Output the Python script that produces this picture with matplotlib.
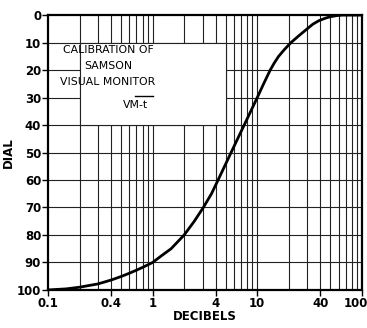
import numpy as np
import matplotlib.pyplot as plt
from matplotlib.patches import Rectangle
import matplotlib.transforms as mtransforms

# curve
decibels = [0.1, 0.15, 0.2, 0.3, 0.4, 0.5, 0.6, 0.7, 0.8, 1.0, 1.2, 1.5, 2.0, 2.5,
            3.05, 3.65, 4.22, 4.87, 5.62, 6.49, 7.5, 8.66, 10, 11.5, 13.3, 14.5,
            16.0, 18.2, 21, 25, 30, 34, 39, 45, 50, 57, 65, 80, 100]
dial = [100, 99.6, 99, 97.8, 96.4, 95.1, 93.9, 92.8, 91.8, 90, 87.7, 85, 80, 75,
        70, 65, 60, 55, 50, 45, 40, 35, 30, 25, 20, 17.5,
        15, 12.5, 10, 7.5, 5, 3.3, 2, 1.1, 0.6, 0.2, 0, 0, 0]

xtick_vals = [0.1, 0.4, 1, 4, 10, 40, 100]
xtick_labels = ['0.1', '0.4', '1', '4', '10', '40', '100']
ytick_vals = [0, 10, 20, 30, 40, 50, 60, 70, 80, 90, 100]

title_lines = ['CALIBRATION OF', 'SAMSON', 'VISUAL MONITOR']
model = 'VM-t'

fig = plt.figure(figsize=(3.67, 3.28), dpi=100)
ax = fig.add_axes([0.131, 0.116, 0.855, 0.838])

ax.set_xscale('log')
ax.set_xlim(0.1, 100)
ax.set_ylim(100, 0)

# log paper grid
minor = [m * d for d in (0.1, 1, 10) for m in range(2, 10)]
for v in minor + [1, 10]:
    ax.axvline(v, color='#222222', lw=0.8, zorder=1)
for v in ytick_vals[1:-1]:
    ax.axhline(v, color='#222222', lw=0.8, zorder=1)

# white label box
ax.add_patch(Rectangle((0.2, 10), 5 - 0.2, 30, facecolor='white',
                       edgecolor='#222222', lw=0.8, zorder=2))

ax.plot(decibels, dial, color='black', lw=2.0, zorder=4, solid_capstyle='round')

fs = 7.8
ys = [0.873, 0.815, 0.756]
for t, yy in zip(title_lines, ys):
    ax.text(0.191, yy, t, transform=ax.transAxes, ha='center', va='center',
            fontsize=fs, zorder=5)
ax.plot([0.277, 0.334], [0.705, 0.705], transform=ax.transAxes,
        color='black', lw=1.0, zorder=5)
ax.text(0.28, 0.673, model, transform=ax.transAxes, ha='center', va='center',
        fontsize=fs, zorder=5)

ax.set_xticks(xtick_vals)
ax.set_xticklabels(xtick_labels)
ax.xaxis.set_minor_locator(plt.NullLocator())
ax.set_yticks(ytick_vals)
ax.tick_params(axis='both', direction='out', length=4, width=1.0,
               labelsize=8.5, pad=1)
for lab in ax.get_xticklabels() + ax.get_yticklabels():
    lab.set_fontweight('bold')
# keep the last label inside the figure
last = ax.get_xticklabels()[-1]
last.set_transform(last.get_transform() +
                   mtransforms.ScaledTranslation(-6 / 100, 0, fig.dpi_scale_trans))

for s in ax.spines.values():
    s.set_linewidth(1.6)
    s.set_zorder(6)

ax.set_xlabel('DECIBELS', fontsize=8.5, fontweight='bold', labelpad=0)
ax.set_ylabel('DIAL', fontsize=8.5, fontweight='bold', labelpad=1)

fig.savefig('out.png', dpi=100)
